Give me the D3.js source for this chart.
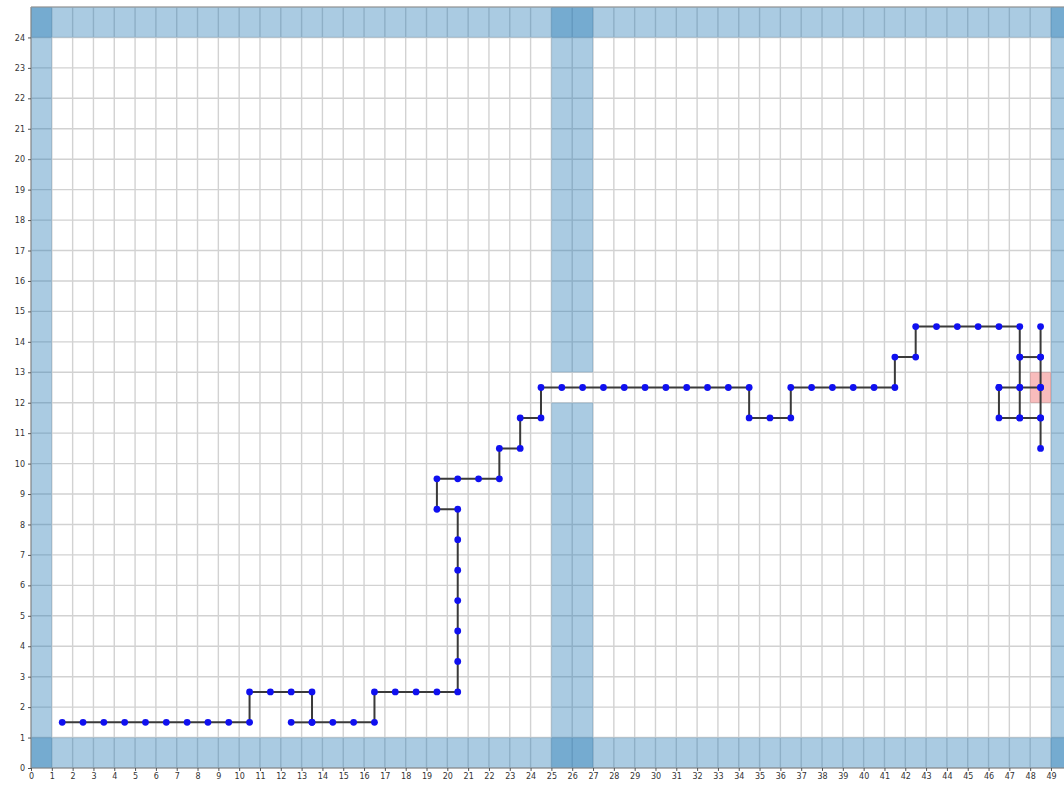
<!DOCTYPE html>
<html>
<head>
<meta charset="utf-8">
<script src="https://cdn.jsdelivr.net/npm/d3@7"></script>
<style>
  html, body { margin: 0; padding: 0; background: #fff; }
  svg { display: block; }
</style>
</head>
<body>
<svg id="chart" width="1064" height="786"></svg>
<script>
// grid world: wall blocks, goal cell, explored path (cell indices)
const xTicks = d3.range(0, 50);
const yTicks = d3.range(0, 25);

const walls = [
  [0, 50, 0, 1],    // bottom row
  [0, 50, 24, 25],  // top row
  [0, 1, 0, 25],    // left column
  [49, 50, 0, 25],  // right column
  [25, 27, 0, 12],  // middle wall, lower part
  [25, 27, 13, 25]  // middle wall, upper part
];

const goal = [48, 12];

const mainPath = [
  [1, 1], [2, 1], [3, 1], [4, 1], [5, 1], [6, 1], [7, 1], [8, 1], [9, 1], [10, 1],
  [10, 2], [11, 2], [12, 2], [13, 2], [13, 1], [14, 1], [15, 1], [16, 1],
  [16, 2], [17, 2], [18, 2], [19, 2], [20, 2],
  [20, 3], [20, 4], [20, 5], [20, 6], [20, 7], [20, 8], [19, 8],
  [19, 9], [20, 9], [21, 9], [22, 9], [22, 10], [23, 10], [23, 11], [24, 11],
  [24, 12], [25, 12], [26, 12], [27, 12], [28, 12], [29, 12], [30, 12], [31, 12],
  [32, 12], [33, 12], [34, 12], [34, 11], [35, 11], [36, 11],
  [36, 12], [37, 12], [38, 12], [39, 12], [40, 12], [41, 12], [41, 13], [42, 13],
  [42, 14], [43, 14], [44, 14], [45, 14], [46, 14], [47, 14],
  [47, 13], [47, 12], [47, 11]
];

const branches = [
  [[12, 1], [13, 1]],
  [[47, 13], [48, 13]],
  [[48, 14], [48, 13], [48, 12], [48, 11], [48, 10]],
  [[46, 12], [47, 12], [48, 12]],
  [[46, 12], [46, 11], [47, 11], [48, 11]]
];

const svg = d3.select('#chart');
const x = d3.scaleLinear().domain([0, 50]).range([31, 1071.8]);
const y = d3.scaleLinear().domain([0, 25]).range([768, 7]);
const font = 'DejaVu Sans, sans-serif';

// grid lines
const grid = svg.append('g');
grid.selectAll('line.gx').data(xTicks.concat([50])).join('line')
  .attr('x1', d => x(d)).attr('x2', d => x(d))
  .attr('y1', y(0)).attr('y2', y(25))
  .attr('stroke', '#d2d2d2').attr('stroke-width', 1.4);
grid.selectAll('line.gy').data(yTicks.concat([25])).join('line')
  .attr('y1', d => y(d)).attr('y2', d => y(d))
  .attr('x1', x(0)).attr('x2', x(50))
  .attr('stroke', '#d2d2d2').attr('stroke-width', 1.4);

// walls (translucent, overlaps come out darker)
svg.append('g').selectAll('rect').data(walls).join('rect')
  .attr('x', d => x(d[0])).attr('width', d => x(d[1]) - x(d[0]))
  .attr('y', d => y(d[3])).attr('height', d => y(d[2]) - y(d[3]))
  .attr('fill', '#1f77b4').attr('fill-opacity', 0.38);

// goal cell
svg.append('rect')
  .attr('x', x(goal[0])).attr('width', x(goal[0] + 1) - x(goal[0]))
  .attr('y', y(goal[1] + 1)).attr('height', y(goal[1]) - y(goal[1] + 1))
  .attr('fill', '#e8302e').attr('fill-opacity', 0.32);

// spines
svg.append('line').attr('x1', x(0)).attr('x2', x(0)).attr('y1', y(0)).attr('y2', y(25))
  .attr('stroke', '#8a8a8a').attr('stroke-width', 1);
svg.append('line').attr('x1', x(0)).attr('x2', x(50)).attr('y1', y(25)).attr('y2', y(25))
  .attr('stroke', '#9a9a9a').attr('stroke-width', 1);
svg.append('line').attr('x1', x(0)).attr('x2', x(50)).attr('y1', y(0)).attr('y2', y(0))
  .attr('stroke', '#8a8a8a').attr('stroke-width', 1);

// axes
const xAxis = svg.append('g').attr('transform', `translate(0,${y(0)})`)
  .call(d3.axisBottom(x).tickValues(xTicks).tickFormat(d3.format('d')).tickSize(3).tickPadding(2));
const yAxis = svg.append('g').attr('transform', `translate(${x(0)},0)`)
  .call(d3.axisLeft(y).tickValues(yTicks).tickFormat(d3.format('d')).tickSize(3).tickPadding(3));
[xAxis, yAxis].forEach(a => {
  a.select('.domain').remove();
  a.selectAll('.tick line').attr('stroke', '#555');
  a.selectAll('.tick text').attr('font-family', font).attr('font-size', 8).attr('fill', '#333');
});

// path edges
const line = d3.line().x(d => x(d[0] + 0.5)).y(d => y(d[1] + 0.5));
svg.append('g').selectAll('path').data([mainPath].concat(branches)).join('path')
  .attr('d', line)
  .attr('fill', 'none').attr('stroke', '#3a3a3a').attr('stroke-width', 2)
  .attr('stroke-linejoin', 'miter');

// nodes
const nodes = mainPath.concat(...branches);
svg.append('g').selectAll('circle').data(nodes).join('circle')
  .attr('cx', d => x(d[0] + 0.5)).attr('cy', d => y(d[1] + 0.5))
  .attr('r', 3.4).attr('fill', '#1010f0');
</script>
</body>
</html>
